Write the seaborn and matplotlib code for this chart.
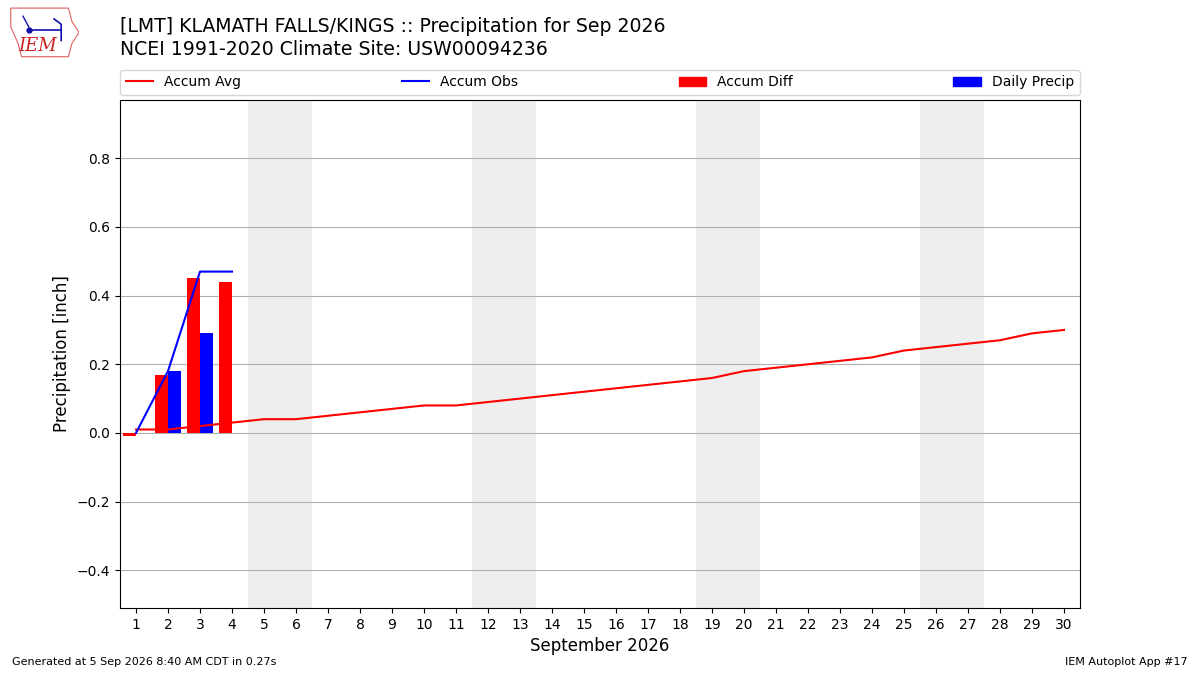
import matplotlib
matplotlib.use('Agg')
import matplotlib.pyplot as plt
from matplotlib.lines import Line2D
from matplotlib.patches import Patch, Polygon
import numpy as np
import pandas as pd
import seaborn as sns

# data
days = list(range(1, 31))
accum_avg = [0.01, 0.01, 0.02, 0.03, 0.04, 0.04, 0.05, 0.06, 0.07, 0.08,
             0.08, 0.09, 0.10, 0.11, 0.12, 0.13, 0.14, 0.15, 0.16, 0.18,
             0.19, 0.20, 0.21, 0.22, 0.24, 0.25, 0.26, 0.27, 0.29, 0.30]
obs_days = [1, 2, 3, 4]
daily_precip = [0.00, 0.18, 0.29, 0.00]
accum_obs = [0.00, 0.18, 0.47, 0.47]
accum_diff = [-0.01, 0.17, 0.45, 0.44]
weekend_days = [5, 6, 12, 13, 19, 20, 26, 27]
yticks = [-0.4, -0.2, 0.0, 0.2, 0.4, 0.6, 0.8]

title = ("[LMT] KLAMATH FALLS/KINGS :: Precipitation for Sep 2026\n"
         "NCEI 1991-2020 Climate Site: USW00094236")

fig = plt.figure(figsize=(12, 6.75), dpi=100)
ax = fig.add_axes([0.1, 0.0993, 0.8, 0.7526])

# weekend shading
for d in weekend_days:
    ax.axvspan(d - 0.5, d + 0.5, color='#eeeeee', lw=0, zorder=0)

# bars: accum diff (left of day) and daily precip (right of day)
bars = pd.DataFrame({
    'day': obs_days * 2,
    'value': accum_diff + daily_precip,
    'kind': ['Accum Diff'] * len(obs_days) + ['Daily Precip'] * len(obs_days),
})
sns.barplot(data=bars, x='day', y='value', hue='kind', native_scale=True,
            dodge=True, width=0.8, palette={'Accum Diff': 'red', 'Daily Precip': 'blue'},
            saturation=1, linewidth=0, legend=False, errorbar=None, ax=ax, zorder=2)

sns.lineplot(x=days, y=accum_avg, color='red', lw=1.5, ax=ax, zorder=3)
sns.lineplot(x=obs_days, y=accum_obs, color='blue', lw=1.5, ax=ax, zorder=3)

ax.set_xlim(0.5, 30.5)
ax.set_ylim(-0.51, 0.97)
ax.set_xticks(days)
ax.set_xticklabels([str(d) for d in days])
ax.set_yticks(yticks)
ax.set_yticklabels([f"{v:.1f}".replace('-', '\u2212') for v in yticks])
ax.yaxis.grid(True, color='#b0b0b0', lw=0.8, zorder=1)
ax.xaxis.grid(False)
ax.set_axisbelow(True)
ax.tick_params(labelsize=10)
ax.set_xlabel('September 2026', fontsize=12)
ax.set_ylabel('Precipitation [inch]', fontsize=12)

handles = [Line2D([], [], color='red', lw=1.5, label='Accum Avg'),
           Line2D([], [], color='blue', lw=1.5, label='Accum Obs'),
           Patch(color='red', label='Accum Diff'),
           Patch(color='blue', label='Daily Precip')]
ax.legend(handles=handles, loc='lower left', bbox_to_anchor=(0, 1.01, 1, 0.05),
          mode='expand', ncol=4, borderaxespad=0, fontsize=10)

fig.text(0.1, 0.975, title, fontsize=13.6, va='top', ha='left', linespacing=1.25)
fig.text(0.01, 0.015, 'Generated at 5 Sep 2026 8:40 AM CDT in 0.27s', fontsize=8)
fig.text(0.99, 0.015, 'IEM Autoplot App #17', fontsize=8, ha='right')

# small logo
lax = fig.add_axes([0.006, 0.912, 0.06, 0.08])
lax.axis('off')
lax.set_xlim(0, 1)
lax.set_ylim(0, 1)
outline = [(0.05, 0.95), (0.85, 0.95), (0.9, 0.7), (1.0, 0.5), (0.9, 0.3),
           (0.85, 0.05), (0.2, 0.05), (0.15, 0.3), (0.05, 0.6)]
lax.add_patch(Polygon(outline, closed=True, fill=False, ec='#e06060', lw=0.8))
lax.text(0.42, 0.25, 'IEM', color='#cc2222', fontsize=13, family='serif',
         style='italic', ha='center', va='center')
lax.plot([0.3, 0.75], [0.55, 0.55], color='#1010aa', lw=1.2)
lax.plot([0.3], [0.55], 'o', color='#1010aa', ms=3.5)
lax.plot([0.22, 0.3], [0.8, 0.6], color='#1010aa', lw=1)
lax.plot([0.65, 0.75, 0.75], [0.75, 0.65, 0.35], color='#1010aa', lw=1.2)

fig.savefig('out.png', dpi=100)
